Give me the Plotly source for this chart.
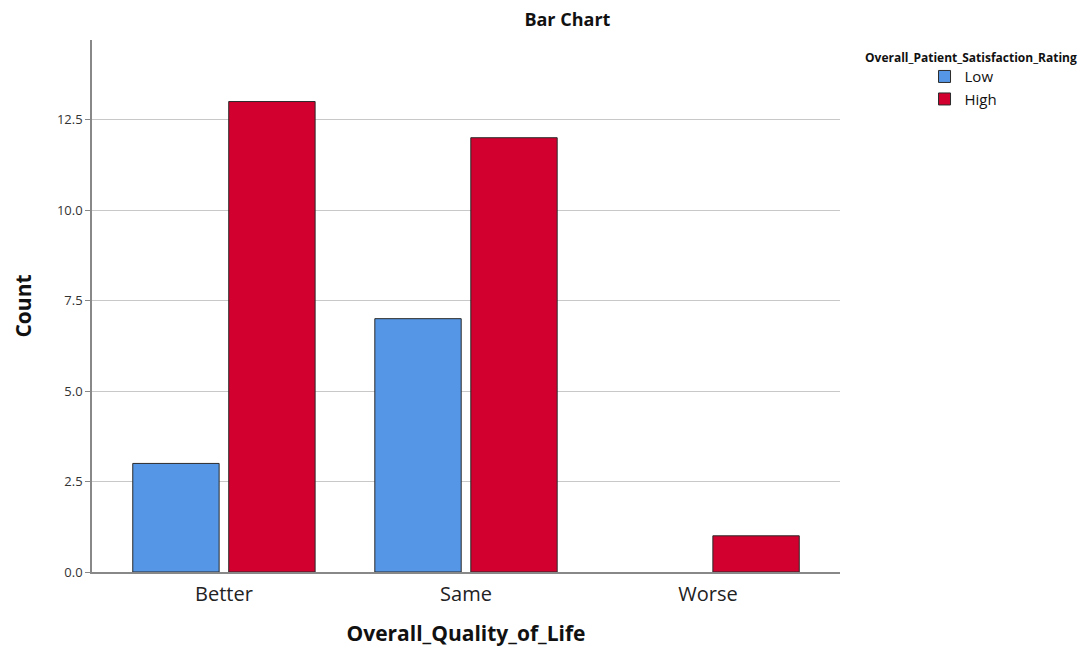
import plotly.graph_objects as go

categories = ["Better", "Same", "Worse"]
low_counts = [3, 7, 0]
high_counts = [13, 12, 1]
y_ticks = [0.0, 2.5, 5.0, 7.5, 10.0, 12.5]
y_tick_labels = ["0.0", "2.5", "5.0", "7.5", "10.0", "12.5"]
legend_title = "Overall_Patient_Satisfaction_Rating"

FONT = "Open Sans, sans-serif"


def hide_zero(values):
    return [v if v else None for v in values]


fig = go.Figure()
fig.add_trace(go.Bar(name="Low", x=categories, y=hide_zero(low_counts),
                     marker=dict(color="#5596E6", line=dict(color="#2b2b2b", width=1))))
fig.add_trace(go.Bar(name="High", x=categories, y=hide_zero(high_counts),
                     marker=dict(color="#D1002E", line=dict(color="#2b2b2b", width=1))))

fig.update_layout(
    width=1087, height=649,
    paper_bgcolor="white", plot_bgcolor="white",
    margin=dict(l=92, r=247, t=40, b=77),
    barmode="group", bargap=0.207, bargroupgap=0.1,
    font=dict(family=FONT, color="#222"),
    title=dict(text="<b>Bar Chart</b>", x=0.522, xanchor="center", y=0.969, yanchor="middle",
               font=dict(size=18, family=FONT, color="#111")),
    xaxis=dict(range=[-0.545, 2.545], showline=True, linecolor="#888", linewidth=2,
               automargin=False,
               ticks="", ticklabelstandoff=3, tickfont=dict(size=20, family=FONT, color="#222"),
               title=dict(text="<b>Overall_Quality_of_Life</b>", font=dict(size=21, family=FONT, color="#111"),
                          standoff=20)),
    yaxis=dict(range=[0, 14.7], tickvals=y_ticks, ticktext=y_tick_labels,
               automargin=False,
               showline=True, linecolor="#888", linewidth=1.5,
               showgrid=True, gridcolor="#c8c8c8", gridwidth=1, zeroline=False,
               ticks="outside", ticklen=5, tickcolor="#888",
               tickfont=dict(size=13, family=FONT, color="#333"),
               title=dict(text="<b>Count</b>", font=dict(size=21, family=FONT, color="#111"), standoff=20)),
    legend=dict(x=1.113, xanchor="left", y=0.962, yanchor="top",
                font=dict(size=15, family=FONT, color="#111"),
                itemwidth=30, tracegroupgap=0),
    annotations=[dict(text="<b>" + legend_title + "</b>", xref="paper", yref="paper",
                      x=1.031, y=0.968, xanchor="left", yanchor="middle", showarrow=False,
                      font=dict(size=12, family=FONT, color="#111"))],
)

fig.write_html("out.html", config={"displayModeBar": False},
               post_script="document.body.style.margin='0';")
